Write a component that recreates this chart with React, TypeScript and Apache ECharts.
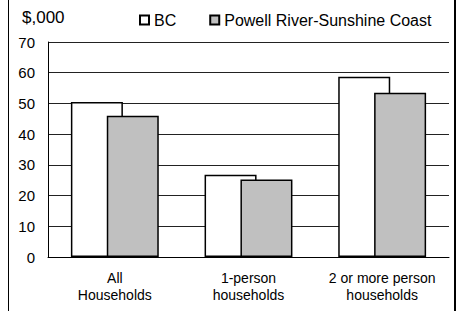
import React, { useEffect, useRef } from "react";
import * as echarts from "echarts";

const categories = ["All\nHouseholds", "1-person\nhouseholds", "2 or more person\nhouseholds"];
const bcValues = [50.5, 26.8, 58.7];
const powellValues = [46.0, 25.2, 53.5];
const seriesNames = ["BC", "Powell River-Sunshine Coast"];
const yTicks = { min: 0, max: 70, interval: 10 };

export default function App() {
  const ref = useRef<HTMLDivElement>(null);
  useEffect(() => {
    if (!ref.current) return;
    const chart = echarts.init(ref.current, null, { renderer: "svg" });
    const font = "'Liberation Sans', Arial, sans-serif";
    chart.setOption({
      animation: false,
      backgroundColor: "#ffffff",
      textStyle: { fontFamily: font },
      grid: { left: 48, right: 18, top: 42, bottom: 54, containLabel: false },
      legend: {
        left: 134,
        top: 7,
        itemWidth: 9,
        itemHeight: 9,
        itemGap: 33,
        icon: "rect",
        textStyle: { fontSize: 16, color: "#000", fontFamily: font },
        data: seriesNames,
      },
      xAxis: {
        type: "category",
        data: categories,
        axisLine: { show: true, lineStyle: { color: "#000", width: 1 } },
        axisTick: { show: false },
        axisLabel: {
          fontSize: 14,
          color: "#000",
          lineHeight: 17,
          margin: 12,
          interval: 0,
          fontFamily: font,
        },
      },
      yAxis: {
        type: "value",
        min: yTicks.min,
        max: yTicks.max,
        interval: yTicks.interval,
        axisLine: { show: true, lineStyle: { color: "#000", width: 1 } },
        axisTick: { show: false },
        axisLabel: { fontSize: 15, color: "#000", margin: 13, fontFamily: font },
        splitLine: { show: true, lineStyle: { color: "#222", width: 1 } },
      },
      graphic: [
        {
          type: "text",
          left: 22,
          top: 9,
          style: { text: "$,000", fontSize: 17, fill: "#000", fontFamily: font },
        },
        {
          type: "line",
          shape: { x1: 8.5, y1: 0, x2: 8.5, y2: 311 },
          style: { stroke: "#000", lineWidth: 1 },
        },
        {
          type: "line",
          shape: { x1: 455, y1: 0, x2: 455, y2: 311 },
          style: { stroke: "#000", lineWidth: 2 },
        },
      ],
      series: [
        {
          name: seriesNames[0],
          type: "bar",
          data: bcValues,
          barWidth: 52,
          barGap: "-31%",
          itemStyle: { color: "#ffffff", borderColor: "#000", borderWidth: 1.5 },
        },
        {
          name: seriesNames[1],
          type: "bar",
          data: powellValues,
          barWidth: 52,
          itemStyle: { color: "#c0c0c0", borderColor: "#000", borderWidth: 1.5 },
        },
      ],
    });
    return () => chart.dispose();
  }, []);
  return (
    <div
      ref={ref}
      style={{ position: "fixed", left: 0, top: 0, width: 467, height: 311 }}
    />
  );
}
